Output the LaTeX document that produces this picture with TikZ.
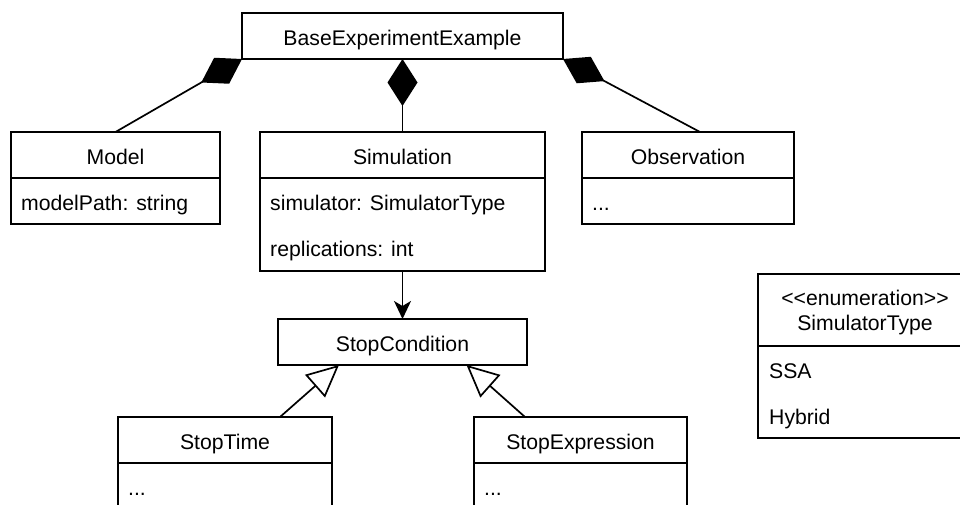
\documentclass[tikz,border=0pt]{standalone}
\usepackage{fontspec}
\newfontfamily\umlfont{Liberation Sans}
\usetikzlibrary{arrows.meta}

\tikzset{
  uml/.style={line width=1.7pt},
  classbox/.style={uml, draw, anchor=north west, inner sep=0pt, outer sep=0pt,
    minimum height=46pt, text height=22pt, text depth=3.2pt},
  attr/.style={anchor=west, inner sep=0pt, text height=22pt, text depth=3.2pt},
  composition/.style={uml, -{Diamond[length=47pt,width=30pt]}},
  association/.style={uml, -{Stealth[length=18pt,width=17pt,inset=5pt]}},
  generalization/.style={uml, -{Triangle[open,length=32pt,width=30pt]}},
}

\begin{document}
\begin{tikzpicture}[x=1pt, y=-1pt, font=\umlfont\fontsize{21.2}{25.4}\selectfont]
  \useasboundingbox (0,0) rectangle (960,505);
  \clip (0,0) rectangle (960,505);

  % classes
  \node[classbox, minimum width=321pt] (base) at (242,13) {BaseExperimentExample};

  \node[classbox, minimum width=209pt] (model) at (11,132) {Model};
  \node[classbox, minimum width=209pt] (modelbody) at (model.south west) {};
  \node[attr] (modelpath) at (21,201) {modelPath: string};

  \node[classbox, minimum width=285pt] (sim) at (260,132) {Simulation};
  \node[classbox, minimum width=285pt, minimum height=93pt] (simbody) at (sim.south west) {};
  \node[attr] (simulator) at (270,201) {simulator: SimulatorType};
  \node[attr] (replications) at (270,247) {replications: int};

  \node[classbox, minimum width=212pt] (obs) at (582,132) {Observation};
  \node[classbox, minimum width=212pt] (obsbody) at (obs.south west) {};
  \node[attr] (obsdots) at (592,201) {...};

  \node[classbox, minimum width=249pt] (stopcond) at (278,319) {StopCondition};

  \node[classbox, minimum width=214pt] (stoptime) at (118,417) {StopTime};
  \node[classbox, minimum width=214pt] (stoptimebody) at (stoptime.south west) {};
  \node[attr] (stoptimedots) at (128,486) {...};

  \node[classbox, minimum width=213pt] (stopexpr) at (474,417) {StopExpression};
  \node[classbox, minimum width=213pt] (stopexprbody) at (stopexpr.south west) {};
  \node[attr] (stopexprdots) at (484,486) {...};

  % enumeration
  \node[classbox, minimum width=214pt, minimum height=72pt] (simtype) at (758,274) {};
  \node[attr, anchor=center] (stereotype) at (865,296) {<<enumeration>>};
  \node[attr, anchor=center] (simtypename) at (865,321) {SimulatorType};
  \node[classbox, minimum width=214pt, minimum height=92pt] (simtypebody) at (simtype.south west) {};
  \node[attr] (ssa) at (769,369) {SSA};
  \node[attr] (hybrid) at (769,415) {Hybrid};

  % relations
  \draw[composition] (model.north) -- (base.south west);
  \draw[composition] (sim.north) -- (base.south);
  \draw[composition] ([xshift=12pt]obs.north) -- (base.south east);
  \draw[association] (simbody.south) -- (stopcond.north);
  \draw[generalization] ([xshift=55pt]stoptime.north) -- ([xshift=-63.5pt]stopcond.south);
  \draw[generalization] ([xshift=-55.5pt]stopexpr.north) -- ([xshift=64pt]stopcond.south);
\end{tikzpicture}
\end{document}
